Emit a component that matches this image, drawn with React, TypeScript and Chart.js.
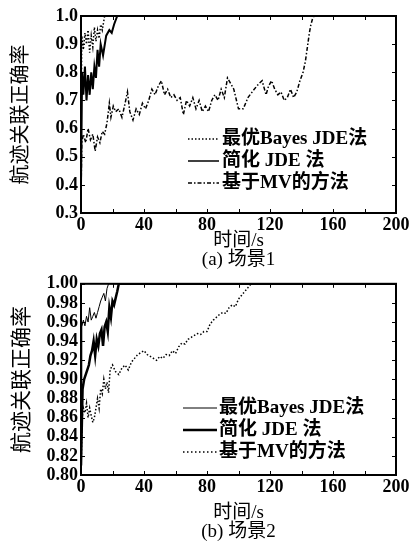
import React, { useEffect, useRef } from 'react';
import { Chart, registerables } from 'chart.js';

Chart.register(...registerables);

// ---------- Data: scene 1 (top chart) ----------
const xTicks = [0, 40, 80, 120, 160, 200];

const s1BayesT = [0, 0.5, 1.5, 2.5, 3.5, 4.5, 5.5, 6.5, 7.5, 8.5, 9.5, 10.5, 11.5, 12.5, 13.5, 15, 200];
const s1BayesV = [0.55, 0.93, 0.88, 0.94, 0.9, 0.95, 0.87, 0.93, 0.89, 0.96, 0.91, 0.95, 0.92, 0.97, 0.95, 1.0, 1.0];

const s1JdeT = [0, 0.7, 1.5, 2.5, 3.5, 4.5, 5.5, 6.5, 7.5, 8.5, 9.5, 10.5, 11.5, 12.5, 14, 16, 18, 19.5, 21, 23, 200];
const s1JdeV = [0.4, 0.8, 0.72, 0.82, 0.7, 0.79, 0.72, 0.8, 0.74, 0.82, 0.78, 0.88, 0.82, 0.9, 0.86, 0.93, 0.95, 0.94, 0.97, 1.0, 1.0];

const s1MvT = [0, 0.5, 1.5, 3, 4.5, 6, 7.5, 9, 10.5, 12, 13.5, 15, 16.5, 18, 19, 20.5, 22, 24, 26, 28, 29.5, 31, 33, 35, 37, 39, 41, 43, 45, 47, 49, 51, 53, 55, 57, 59, 61, 63, 65, 67, 69, 71, 73, 75, 77, 79, 81, 83, 85, 87, 89, 91, 93, 95, 97, 100, 103, 106, 110, 113, 115, 117.5, 119, 121, 123, 125, 127, 129, 131, 133, 135, 137, 139, 141, 142.5, 144, 145, 146, 147, 148, 200];
const s1MvV = [0.36, 0.55, 0.58, 0.55, 0.6, 0.56, 0.58, 0.52, 0.57, 0.55, 0.59, 0.58, 0.62, 0.69, 0.64, 0.68, 0.66, 0.67, 0.64, 0.69, 0.73, 0.66, 0.63, 0.67, 0.65, 0.69, 0.67, 0.7, 0.74, 0.72, 0.75, 0.77, 0.72, 0.74, 0.71, 0.72, 0.7, 0.71, 0.65, 0.7, 0.68, 0.71, 0.67, 0.7, 0.66, 0.68, 0.66, 0.7, 0.72, 0.7, 0.74, 0.71, 0.78, 0.76, 0.74, 0.67, 0.67, 0.71, 0.74, 0.76, 0.77, 0.72, 0.75, 0.77, 0.74, 0.72, 0.73, 0.7, 0.71, 0.74, 0.71, 0.73, 0.77, 0.8, 0.84, 0.9, 0.94, 0.97, 0.99, 1.0, 1.0];

// ---------- Data: scene 2 (bottom chart) ----------
const s2BayesT = [0, 0.5, 1.5, 2.5, 3.5, 4.5, 5.5, 6.5, 7.5, 8.5, 9.5, 10.5, 11.5, 12.5, 13.5, 14.5, 15.5, 16.5, 17.5, 200];
const s2BayesV = [0.86, 0.955, 0.962, 0.956, 0.966, 0.96, 0.975, 0.962, 0.966, 0.97, 0.964, 0.97, 0.976, 0.982, 0.986, 0.99, 0.982, 0.995, 1.0, 1.0];

const s2JdeT = [0, 1, 2, 3, 4, 5, 6, 7, 8, 9, 10, 11, 12, 13, 14, 15, 16, 17, 18, 19, 20, 21, 22, 23, 24, 200];
const s2JdeV = [0.81, 0.89, 0.9, 0.905, 0.91, 0.915, 0.925, 0.93, 0.94, 0.925, 0.942, 0.935, 0.948, 0.952, 0.935, 0.955, 0.96, 0.95, 0.975, 0.965, 0.982, 0.978, 0.985, 0.992, 1.0, 1.0];

const s2MvT = [0, 0.7, 1.5, 2.5, 3.5, 4.5, 5.5, 6.5, 7.5, 8.5, 9.5, 10.5, 11.5, 12.5, 13.5, 14.5, 15.5, 16.5, 17.5, 18.5, 20, 22, 24, 26, 28, 30, 32, 34, 36, 38, 40, 42, 44, 46, 48, 50, 52, 54, 56, 58, 60, 62, 64, 66, 68, 70, 72, 74, 76, 78, 80, 82, 84, 86, 88, 90, 92, 94, 96, 98, 100, 102, 104, 106, 108, 200];
const s2MvV = [0.8, 0.86, 0.87, 0.865, 0.875, 0.86, 0.87, 0.862, 0.855, 0.86, 0.87, 0.88, 0.87, 0.89, 0.885, 0.9, 0.89, 0.897, 0.886, 0.91, 0.915, 0.908, 0.905, 0.912, 0.915, 0.91, 0.918, 0.922, 0.926, 0.928, 0.93, 0.926, 0.924, 0.922, 0.92, 0.924, 0.922, 0.926, 0.925, 0.93, 0.927, 0.934, 0.938, 0.937, 0.942, 0.944, 0.946, 0.948, 0.947, 0.95, 0.95, 0.958, 0.962, 0.965, 0.968, 0.97, 0.969, 0.975, 0.978, 0.976, 0.984, 0.988, 0.992, 0.996, 1.0, 1.0];

const labels = ['最优Bayes JDE法', '简化 JDE 法', '基于MV的方法'];
const yTitle = '航迹关联正确率';
const xTitle = '时间/s';
const captionA = '(a) 场景1';
const captionB = '(b) 场景2';

const serif = '"Liberation Serif", "Noto Sans CJK SC", serif';

function pts(t: number[], v: number[]) {
  return t.map((x, i) => ({ x, y: v[i] }));
}

type LegendItem = { label: string; width: number; dash: number[] };

function framePlugin(legend: LegendItem[], rows: number[], lineX0: number, lineX1: number, textX: number) {
  return {
    id: 'frameLegend',
    afterDraw(chart: any) {
      const { ctx, chartArea } = chart;
      const { left, right, top, bottom } = chartArea;
      ctx.save();
      ctx.strokeStyle = '#000';
      ctx.lineWidth = 1;
      const xs = chart.scales.x;
      const ys = chart.scales.y;
      for (let v = 0; v <= 200; v += 20) {
        const px = Math.round(xs.getPixelForValue(v)) + 0.5;
        ctx.beginPath();
        ctx.moveTo(px, bottom);
        ctx.lineTo(px, bottom - 4);
        ctx.moveTo(px, top);
        ctx.lineTo(px, top + 4);
        ctx.stroke();
      }
      ys.ticks.forEach((t: any) => {
        const py = Math.round(ys.getPixelForValue(t.value)) + 0.5;
        ctx.beginPath();
        ctx.moveTo(left, py);
        ctx.lineTo(left + 4, py);
        ctx.moveTo(right, py);
        ctx.lineTo(right - 4, py);
        ctx.stroke();
      });
      ctx.lineWidth = 2;
      ctx.strokeRect(left, top, right - left, bottom - top);
      ctx.font = 'bold 19px ' + serif;
      ctx.fillStyle = '#000';
      ctx.textBaseline = 'middle';
      ctx.textAlign = 'left';
      legend.forEach((it, i) => {
        const y = rows[i];
        ctx.beginPath();
        ctx.lineWidth = it.width;
        ctx.setLineDash(it.dash);
        ctx.moveTo(lineX0, y);
        ctx.lineTo(lineX1, y);
        ctx.stroke();
        ctx.setLineDash([]);
        ctx.fillText(it.label, textX, y);
      });
      ctx.restore();
    },
  };
}

function buildConfig(opts: {
  datasets: any[];
  yMin: number;
  yMax: number;
  yStep: number;
  yDigits: number;
  caption: string;
  padTop: number;
  xHeight: number;
  yTitleSize: number;
  plugin: any;
}) {
  return {
    type: 'line' as const,
    data: { datasets: opts.datasets },
    options: {
      animation: false,
      responsive: false,
      maintainAspectRatio: false,
      layout: { padding: { top: opts.padTop, right: 20, left: 0, bottom: 0 } },
      plugins: { legend: { display: false }, tooltip: { enabled: false } },
      elements: { point: { radius: 0 }, line: { tension: 0 } },
      scales: {
        x: {
          type: 'linear',
          min: 0,
          max: 200,
          afterBuildTicks(scale: any) {
            scale.ticks = xTicks.map((v) => ({ value: v }));
          },
          afterFit(scale: any) {
            scale.height = opts.xHeight;
          },
          grid: { display: false, drawTicks: false },
          border: { display: false },
          ticks: {
            color: '#000',
            padding: 2,
            maxRotation: 0,
            autoSkip: false,
            font: { family: serif, size: 18, weight: 'bold' },
          },
          title: {
            display: true,
            text: [xTitle, opts.caption],
            color: '#000',
            padding: { top: 0, bottom: 0 },
            font: { family: serif, size: 19, lineHeight: 1.0 },
          },
        },
        y: {
          type: 'linear',
          min: opts.yMin,
          max: opts.yMax,
          afterFit(scale: any) {
            scale.width = 81;
          },
          grid: { display: false, drawTicks: false },
          border: { display: false },
          ticks: {
            stepSize: opts.yStep,
            color: '#000',
            padding: 3,
            autoSkip: false,
            font: { family: serif, size: 18, weight: 'bold' },
            callback: (v: any) => Number(v).toFixed(opts.yDigits),
          },
          title: {
            display: true,
            text: yTitle,
            color: '#000',
            padding: { top: 10, bottom: 0 },
            font: { family: serif, size: opts.yTitleSize },
          },
        },
      },
    },
    plugins: [opts.plugin],
  };
}

export default function App() {
  const topRef = useRef<HTMLCanvasElement>(null);
  const botRef = useRef<HTMLCanvasElement>(null);

  useEffect(() => {
    document.body.style.margin = '0';
    const topLegend: LegendItem[] = [
      { label: labels[0], width: 1.5, dash: [1.5, 2] },
      { label: labels[1], width: 1.5, dash: [] },
      { label: labels[2], width: 1.5, dash: [4, 2, 1.5, 2] },
    ];
    const botLegend: LegendItem[] = [
      { label: labels[0], width: 1, dash: [] },
      { label: labels[1], width: 2.5, dash: [] },
      { label: labels[2], width: 1.5, dash: [1.5, 2.5] },
    ];
    const topChart = new Chart(
      topRef.current as HTMLCanvasElement,
      buildConfig({
        datasets: [
          { label: labels[0], data: pts(s1BayesT, s1BayesV), borderColor: '#000', borderWidth: 1.5, borderDash: [1.5, 2] },
          { label: labels[1], data: pts(s1JdeT, s1JdeV), borderColor: '#000', borderWidth: 2 },
          { label: labels[2], data: pts(s1MvT, s1MvV), borderColor: '#000', borderWidth: 1.5, borderDash: [4, 2, 1.5, 2] },
        ],
        yMin: 0.3,
        yMax: 1.0,
        yStep: 0.1,
        yDigits: 1,
        caption: captionA,
        padTop: 16,
        xHeight: 57,
        yTitleSize: 20,
        plugin: framePlugin(topLegend, [139, 161, 183], 188, 219, 222),
      }) as any
    );
    const botChart = new Chart(
      botRef.current as HTMLCanvasElement,
      buildConfig({
        datasets: [
          { label: labels[0], data: pts(s2BayesT, s2BayesV), borderColor: '#000', borderWidth: 1 },
          { label: labels[1], data: pts(s2JdeT, s2JdeV), borderColor: '#000', borderWidth: 2.5 },
          { label: labels[2], data: pts(s2MvT, s2MvV), borderColor: '#000', borderWidth: 1.5, borderDash: [1.5, 2] },
        ],
        yMin: 0.8,
        yMax: 1.0,
        yStep: 0.02,
        yDigits: 2,
        caption: captionB,
        padTop: 10,
        xHeight: 67,
        yTitleSize: 21,
        plugin: framePlugin(botLegend, [138, 160, 182], 183, 217, 219),
      }) as any
    );
    return () => {
      topChart.destroy();
      botChart.destroy();
    };
  }, []);

  return (
    <div style={{ width: 416, height: 542, background: '#fff' }}>
      <canvas ref={topRef} width={416} height={270} style={{ display: 'block' }} />
      <canvas ref={botRef} width={416} height={272} style={{ display: 'block' }} />
    </div>
  );
}
